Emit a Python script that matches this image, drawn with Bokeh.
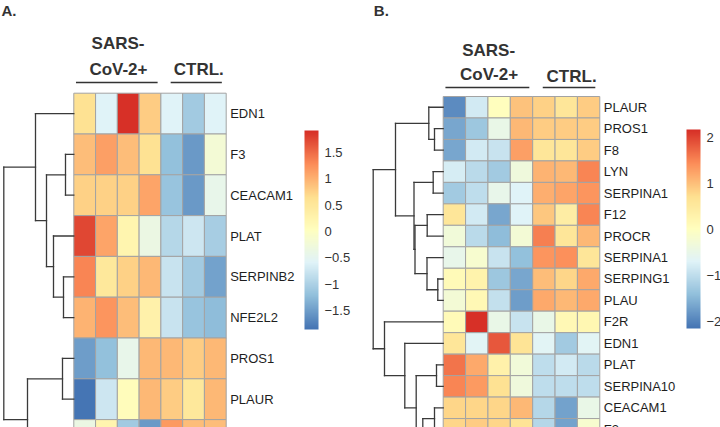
import numpy as np
from bokeh.plotting import figure
from bokeh.layouts import row
from bokeh.models import (ColumnDataSource, LinearColorMapper, ColorBar, FixedTicker,
                          Range1d, CustomJSTickFormatter)
from bokeh.core.properties import value
from bokeh.embed import file_html
from bokeh.resources import INLINE

FONT = "Liberation Sans"

# ---------------- data: panel A ----------------
genes_a = ["EDN1", "F3", "CEACAM1", "PLAT", "SERPINB2", "NFE2L2", "PROS1", "PLAUR"]
vals_a = [
    [0.60, -0.60, 1.92, 0.80, -0.60, -1.10, -0.60],
    [0.90, 1.15, 0.90, 0.60, -1.20, -1.55, -0.20],
    [0.75, 0.75, 0.75, 1.10, -1.15, -1.55, -0.45],
    [1.75, 1.12, 0.25, -0.35, -0.95, -0.75, -1.05],
    [1.32, 0.50, 0.75, 0.95, -0.80, -1.10, -1.45],
    [1.00, 1.22, 0.92, 0.30, -0.80, -1.15, -1.22],
    [-1.50, -1.20, -0.45, 0.95, 0.95, 0.80, 0.95],
    [-1.86, -0.75, 0.10, 0.95, 0.82, 0.50, 0.95],
    [-0.35, 0.25, -1.10, -1.55, 1.20, 0.92, 0.92],   # next row, cut off by the frame
]
ticks_a = [-1.5, -1.0, -0.5, 0.0, 0.5, 1.0, 1.5]
# hierarchical clustering of rows: (child, child, merge height); leaves 0..9
tree_a = [
    (1, 2, 0.83),
    (4, 5, 1.03),
    (3, 11, 2.03),
    (10, 12, 2.73),
    (0, 13, 3.83),
    (6, 7, 1.13),
    (8, 9, 2.30),
    (15, 16, 4.63),
    (14, 17, 7.00),
]
leaves_a = 10

# ---------------- data: panel B ----------------
genes_b = ["PLAUR", "PROS1", "F8", "LYN", "SERPINA1", "F12", "PROCR", "SERPINA1",
           "SERPING1", "PLAU", "F2R", "EDN1", "PLAT", "SERPINA10", "CEACAM1", "F3"]
vals_b = [
    [-1.90, -0.85, 0.05, 1.00, 0.85, 0.60, 0.90],
    [-1.65, -1.30, -0.50, 1.05, 0.90, 0.90, 0.90],
    [-1.65, -0.85, -0.90, 1.30, 0.60, 0.60, 0.90],
    [-0.80, -1.05, -1.25, -0.35, 1.10, 1.05, 1.50],
    [-1.25, -1.00, -0.55, -0.70, 1.15, 1.25, 1.38],
    [0.60, -0.85, -1.65, -0.70, 0.95, 0.40, 1.48],
    [-0.30, -1.05, -1.45, -0.25, 1.55, 0.60, 1.08],
    [-0.55, -0.20, -0.90, -1.38, 1.35, 1.42, 0.60],
    [0.10, 0.30, -1.30, -1.65, 1.03, 0.80, 1.18],
    [-0.25, 0.15, -0.95, -1.75, 1.20, 1.05, 1.18],
    [0.12, 2.17, -0.50, -0.90, -0.50, 0.18, 0.20],
    [0.60, -0.65, 1.85, 0.65, -0.65, -1.28, -0.65],
    [1.65, 1.20, 0.35, -0.30, -1.00, -0.85, -1.05],
    [1.48, 1.33, 0.67, -0.35, -1.00, -1.00, -1.02],
    [0.80, 0.80, 0.80, 1.05, -1.10, -1.68, -0.50],
    [0.80, 0.90, 0.80, 0.65, -1.10, -1.70, -0.20],
]
scale_b = (-2.15, 2.17)
ticks_b = [-2, -1, 0, 1, 2]
tree_b = [
    (1, 2, 0.87),
    (0, 18, 1.44),
    (3, 4, 1.00),
    (5, 6, 1.60),
    (8, 9, 0.54),
    (7, 22, 1.62),
    (21, 23, 2.82),
    (20, 24, 2.92),
    (19, 25, 4.77),
    (12, 13, 0.67),
    (14, 15, 0.87),
    (16, 17, 1.50),
    (28, 29, 2.04),
    (27, 30, 2.70),
    (11, 31, 3.84),
    (10, 32, 5.87),
    (26, 33, 7.00),
]
leaves_b = 18

# column groups (first col, last col + 1)
group_names = ["SARS-", "CoV-2+", "CTRL."]
group_spans = [(0, 4), (4, 7)]

# ---------------- helpers ----------------
STOPS = ["#4575B4", "#91BFDB", "#E0F3F8", "#FFFFBF", "#FEE090", "#FC8D59", "#D73027"]


def ramp(n=100):
    rgb = np.array([[int(c[i:i + 2], 16) for i in (1, 3, 5)] for c in STOPS], float)
    pos = np.linspace(0, 1, len(STOPS))
    out = []
    for t in np.linspace(0, 1, n):
        r, g, b = (np.interp(t, pos, rgb[:, k]) for k in range(3))
        out.append("#%02x%02x%02x" % (int(round(r)), int(round(g)), int(round(b))))
    return out


PALETTE = ramp(100)


def dendro(merges, n_leaves, width):
    ypos = {i: i + 0.5 for i in range(n_leaves)}
    hgt = {i: 0.0 for i in range(n_leaves)}
    k = width / max(h for _, _, h in merges)
    x0, y0, x1, y1 = [], [], [], []
    for idx, (a, b, h) in enumerate(merges):
        node = n_leaves + idx
        ypos[node] = (ypos[a] + ypos[b]) / 2
        hgt[node] = h
        xn = -h * k
        x0.append(xn); y0.append(ypos[a]); x1.append(xn); y1.append(ypos[b])
        for c in (a, b):
            x0.append(xn); y0.append(ypos[c]); x1.append(-hgt[c] * k); y1.append(ypos[c])
    return dict(x0=x0, y0=y0, x1=x1, y1=y1)


def panel(letter, genes, vals, lo_hi, ticks, merges, n_leaves, cfg):
    ncol = len(vals[0])
    W, H = 360, 427
    cw, rh = cfg["cw"], cfg["rh"]
    x_start = -cfg["left"] / cw
    x_end = (W - cfg["left"]) / cw
    y_top = -cfg["top"] / rh
    y_bot = (H - cfg["top"]) / rh
    p = figure(width=W, height=H, output_backend="svg", toolbar_location=None,
               x_range=Range1d(x_start, x_end), y_range=Range1d(y_bot, y_top),
               x_axis_location=None, y_axis_location=None, min_border=0,
               outline_line_color=None, background_fill_color="white",
               border_fill_color="white")
    p.grid.visible = False

    lo, hi = lo_hi
    mapper = LinearColorMapper(palette=PALETTE, low=lo, high=hi)
    xs, ys, vs = [], [], []
    for r, rowv in enumerate(vals):
        for c, v in enumerate(rowv):
            xs.append(c + 0.5); ys.append(r + 0.5); vs.append(v)
    src = ColumnDataSource(dict(x=xs, y=ys, v=vs))
    p.rect(x="x", y="y", width=1, height=1, source=src,
           fill_color={"field": "v", "transform": mapper},
           line_color="#a3a3a3", line_width=1)

    # dendrogram
    seg = ColumnDataSource(dendro(merges, n_leaves, cfg["tree_w"] / cw))
    p.segment(x0="x0", y0="y0", x1="x1", y1="y1", source=seg,
              line_color="#3a3a3a", line_width=1.3, line_cap="square")

    # row labels
    p.text(x=[ncol] * len(genes), y=[i + 0.5 for i in range(len(genes))], text=genes,
           x_offset=4, text_baseline="middle", text_align="left",
           text_font=value(FONT), text_font_size="13px", text_color="#1e1e1e")

    # column group headers
    (s1, e1), (s2, e2) = group_spans
    hdr = dict(text_font=value(FONT), text_font_size="17px", text_font_style="bold",
               text_color="#333333", text_align="center", text_baseline="middle")
    p.text(x=[(s1 + e1) / 2 + 0.03], y=[0], text=[group_names[0]], y_offset=cfg["l1"], **hdr)
    p.text(x=[(s1 + e1) / 2 + 0.05], y=[0], text=[group_names[1]], y_offset=cfg["l2"], **hdr)
    p.text(x=[(s2 + e2) / 2 + 0.24], y=[0], text=[group_names[2]], y_offset=cfg["l3"], **hdr)
    uy = -cfg["ul"] / rh
    p.segment(x0=[s1 + 0.1, s2 + 0.45], x1=[e1 - 0.15, e2 - 0.2], y0=[uy, uy], y1=[uy, uy],
              line_color="#333333", line_width=1.6)

    # panel letter
    p.text(x=[x_start], y=[y_top], text=[letter], x_offset=cfg["lx"], y_offset=9.5,
           text_font=value(FONT), text_font_size="15px", text_font_style="bold",
           text_color="#333333", text_baseline="middle")

    fmt = CustomJSTickFormatter(code="return String(tick).replace('-', '\\u2212');")
    cb = ColorBar(color_mapper=mapper, ticker=FixedTicker(ticks=ticks), formatter=fmt,
                  width=14, height=199, location=cfg["cb"], padding=0, label_standoff=6,
                  major_tick_line_color=None, minor_tick_line_color=None,
                  bar_line_color=None, border_line_color=None,
                  background_fill_alpha=0,
                  major_label_text_font=FONT, major_label_text_font_size="13px",
                  major_label_text_color="#333333")
    p.add_layout(cb)
    return p


lo_a = min(min(r) for r in vals_a)
hi_a = max(max(r) for r in vals_a)

pa = panel("A.", genes_a, vals_a, (lo_a, hi_a), ticks_a, tree_a, leaves_a,
           dict(cw=21.77, rh=40.8, left=73.3, top=92.7, tree_w=70.0,
                l1=-49.7, l2=-24.2, l3=-23.7, ul=10.7, lx=1, cb=(304, 98)))
pb = panel("B.", genes_b, vals_b, scale_b, ticks_b, tree_b, leaves_b,
           dict(cw=22.37, rh=21.47, left=82.7, top=96.0, tree_w=70.0,
                l1=-46.0, l2=-22.0, l3=-20.0, ul=9.0, lx=13.3, cb=(326, 99)))

layout = row(pa, pb)
open("out.html", "w").write(file_html(layout, INLINE))
